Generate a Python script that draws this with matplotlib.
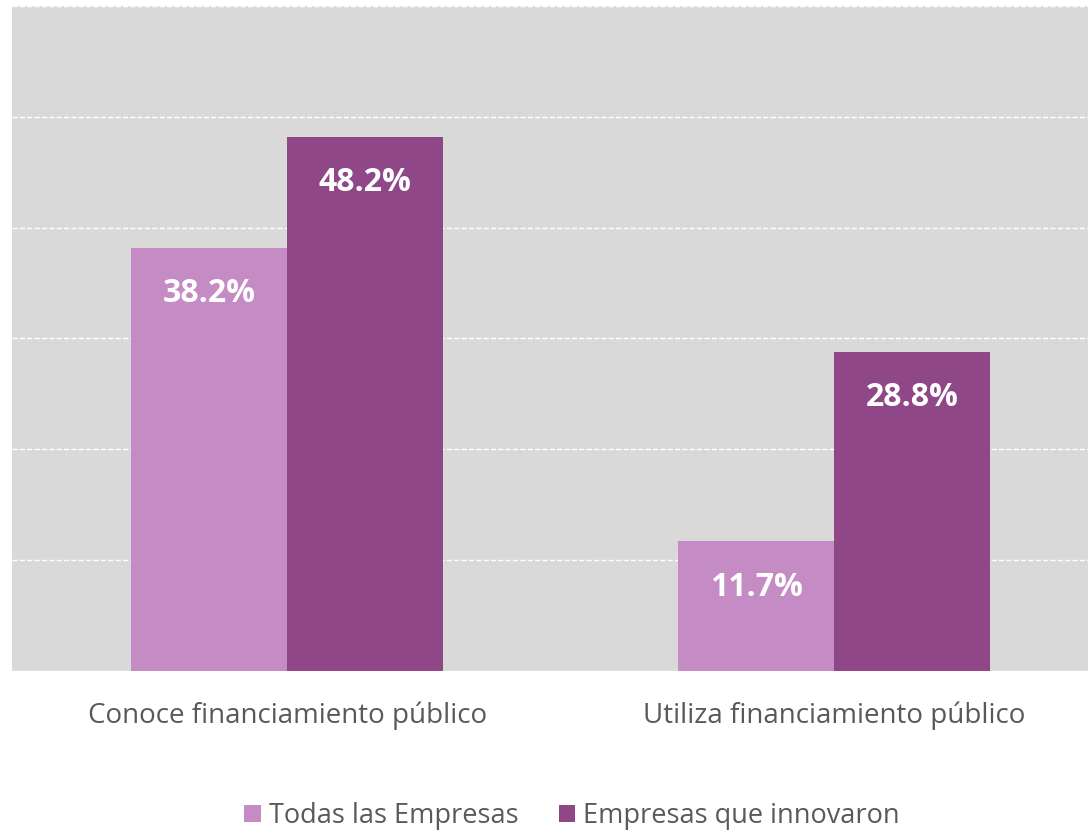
import matplotlib.pyplot as plt
import numpy as np

categories = ['Conoce financiamiento público', 'Utiliza financiamiento público']
series_names = ['Todas las Empresas', 'Empresas que innovaron']
todas = [38.2, 11.7]
innovaron = [48.2, 28.8]

colours = ['#C48BC4', '#904788']
plt.rcParams['font.family'] = ['Open Sans', 'DejaVu Sans']

fig = plt.figure(figsize=(10.88, 8.30), dpi=100)
ax = fig.add_axes([12 / 1088, 0.1916, 1 - 12 / 1088, 0.8012])
ax.set_facecolor('#D9D9D9')

x = np.arange(len(categories))
w = 0.285
bars1 = ax.bar(x - w / 2, todas, w, color=colours[0], label=series_names[0], zorder=3)
bars2 = ax.bar(x + w / 2, innovaron, w, color=colours[1], label=series_names[1], zorder=3)

# value labels inside the top of each bar
for bars, vals in ((bars1, todas), (bars2, innovaron)):
    for bar, v in zip(bars, vals):
        ax.annotate(f'{v:.1f}%', (bar.get_x() + bar.get_width() / 2, v),
                    xytext=(0, -46), textcoords='offset pixels',
                    ha='center', va='center', color='white',
                    fontsize=23, fontweight='bold', zorder=4)

ax.set_xlim(-0.503, 1.464)
ax.set_ylim(0, 60)
ax.set_yticks(np.arange(0, 61, 10))
ax.set_yticklabels([])
ax.yaxis.grid(True, color='white', linestyle='--', linewidth=1, zorder=1)
ax.tick_params(axis='y', length=0)
ax.tick_params(axis='x', length=0, pad=22, labelsize=20, labelcolor='#595959')
ax.set_xticks(x)
ax.set_xticklabels(categories)
for s in ax.spines.values():
    s.set_visible(False)

fig.legend(loc='center', bbox_to_anchor=(0.526, 0.017), ncol=2, frameon=False,
           fontsize=19.5, labelcolor='#595959', handlelength=0.6, handleheight=0.6,
           handletextpad=0.3, columnspacing=1.5)

fig.savefig('out.png', dpi=100)
